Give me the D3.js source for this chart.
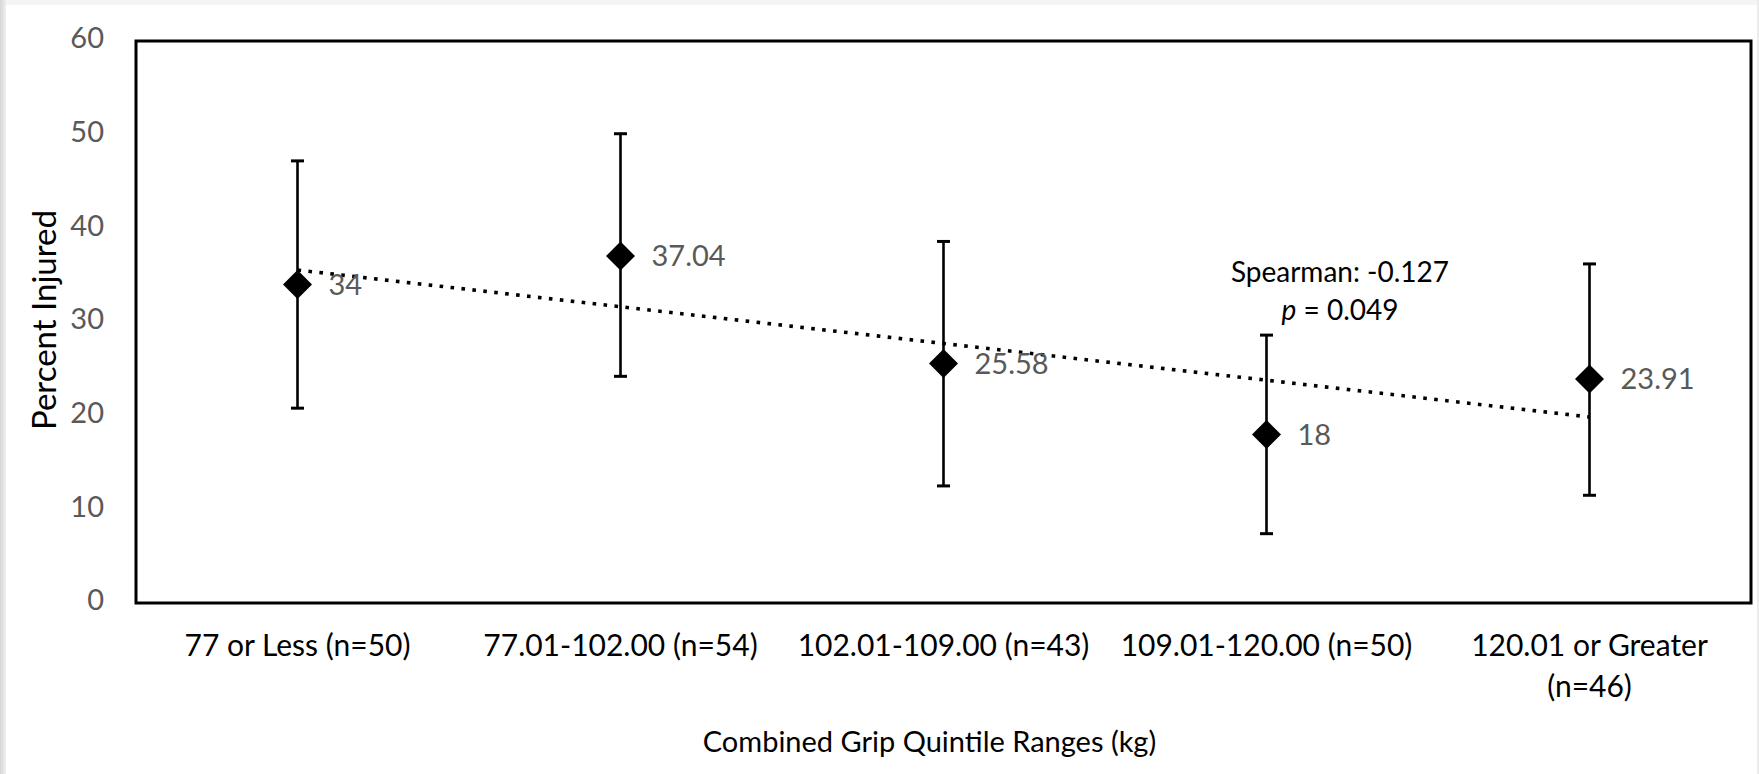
<!DOCTYPE html>
<html>
<head>
<meta charset="utf-8">
<script src="https://cdn.jsdelivr.net/npm/d3@7"></script>
<style>
  html, body { margin: 0; padding: 0; background: #fff; }
  svg { display: block; }
  text { font-family: Lato, "Noto Sans", sans-serif; }
</style>
</head>
<body>
<svg id="chart" width="1759" height="774"></svg>
<script>
// Injury rate by combined grip strength quintile, with 95% confidence intervals
const categories = [
  "77 or Less (n=50)",
  "77.01-102.00 (n=54)",
  "102.01-109.00 (n=43)",
  "109.01-120.00 (n=50)",
  "120.01 or Greater (n=46)"
];
const percentInjured = [34, 37.04, 25.58, 18, 23.91];
const ciLower = [20.8, 24.2, 12.5, 7.4, 11.5];
const ciUpper = [47.2, 50.1, 38.6, 28.6, 36.2];
const yTicks = [0, 10, 20, 30, 40, 50, 60];
const spearmanText = "Spearman: -0.127";
const pValueText = "0.049";

const svg = d3.select("#chart");
const W = 1759, H = 774;
const plot = { left: 136, right: 1751, top: 41, bottom: 603 };

// page edge shading
const defs = svg.append("defs");
const grad = defs.append("linearGradient").attr("id", "edgeShade")
  .attr("x1", "0").attr("x2", "1").attr("y1", "0").attr("y2", "0");
grad.append("stop").attr("offset", "0").attr("stop-color", "#d6d6d6");
grad.append("stop").attr("offset", "1").attr("stop-color", "#efefef");
svg.append("rect").attr("x", 0).attr("y", 0).attr("width", W).attr("height", 5).attr("fill", "#f4f4f4");
svg.append("rect").attr("x", 0).attr("y", 0).attr("width", 6).attr("height", H).attr("fill", "url(#edgeShade)");
svg.append("rect").attr("x", 1757).attr("y", 0).attr("width", 2).attr("height", H).attr("fill", "#ececec");

const x = d3.scaleBand().domain(categories).range([plot.left, plot.right]).padding(0);
const y = d3.scaleLinear().domain([0, 60]).range([plot.bottom, plot.top]);
const cx = c => x(c) + x.bandwidth() / 2;

// y axis labels
const yAxis = svg.append("g")
  .attr("transform", `translate(${plot.left},0)`)
  .call(d3.axisLeft(y).tickValues(yTicks).tickSize(0).tickPadding(32));
yAxis.select(".domain").remove();
yAxis.selectAll("text")
  .attr("fill", "#595959").attr("font-size", 29).attr("dy", "0.24em")
  .style("font-family", "Lato, 'Noto Sans', sans-serif");

// x axis labels, wrapped to the category width
const xAxis = svg.append("g")
  .attr("transform", `translate(0,${plot.bottom})`)
  .call(d3.axisBottom(x).tickSize(0).tickPadding(0));
xAxis.select(".domain").remove();
xAxis.selectAll("text")
  .attr("fill", "#000").attr("font-size", 30).attr("y", 0).attr("dy", 0)
  .style("font-family", "Lato, 'Noto Sans', sans-serif")
  .each(function(d) {
    const t = d3.select(this);
    const maxW = x.bandwidth() * 0.95;
    const words = d.split(" ");
    t.text(null);
    let line = [];
    const lines = [];
    const probe = t.append("tspan");
    words.forEach(w => {
      line.push(w);
      probe.text(line.join(" "));
      if (probe.node().getComputedTextLength() > maxW && line.length > 1) {
        line.pop();
        lines.push(line.join(" "));
        line = [w];
      }
    });
    lines.push(line.join(" "));
    probe.remove();
    lines.forEach((l, i) => {
      t.append("tspan").attr("x", 0).attr("y", 53 + i * 41).text(l);
    });
  });

// plot frame
svg.append("rect")
  .attr("x", plot.left).attr("y", plot.top)
  .attr("width", plot.right - plot.left).attr("height", plot.bottom - plot.top)
  .attr("fill", "none").attr("stroke", "#000").attr("stroke-width", 3);

// linear trendline (least squares over category index)
const n = percentInjured.length;
const idx = d3.range(1, n + 1);
const mx = d3.mean(idx), my = d3.mean(percentInjured);
const slope = d3.sum(idx, (v, i) => (v - mx) * (percentInjured[i] - my)) / d3.sum(idx, v => (v - mx) ** 2);
const intercept = my - slope * mx;
const trend = [
  { c: categories[0], v: intercept + slope * 1 },
  { c: categories[n - 1], v: intercept + slope * n }
];
svg.append("path")
  .datum(trend)
  .attr("d", d3.line().x(d => cx(d.c)).y(d => y(d.v)))
  .attr("fill", "none").attr("stroke", "#000")
  .attr("stroke-width", 3.6).attr("stroke-dasharray", "3.6 7.4");

// error bars
const points = categories.map((c, i) => ({ c, v: percentInjured[i], lo: ciLower[i], hi: ciUpper[i] }));
const eb = svg.append("g").attr("stroke", "#000").attr("stroke-width", 2.6);
eb.selectAll(".stem").data(points).join("line")
  .attr("x1", d => cx(d.c)).attr("x2", d => cx(d.c))
  .attr("y1", d => y(d.lo)).attr("y2", d => y(d.hi));
eb.selectAll(".capHi").data(points).join("line")
  .attr("x1", d => cx(d.c) - 6.5).attr("x2", d => cx(d.c) + 6.5)
  .attr("y1", d => y(d.hi)).attr("y2", d => y(d.hi)).attr("stroke-width", 3);
eb.selectAll(".capLo").data(points).join("line")
  .attr("x1", d => cx(d.c) - 6.5).attr("x2", d => cx(d.c) + 6.5)
  .attr("y1", d => y(d.lo)).attr("y2", d => y(d.lo)).attr("stroke-width", 3);

// diamond markers
const diamond = d3.symbol().type(d3.symbolSquare).size(420);
svg.append("g").selectAll("path").data(points).join("path")
  .attr("d", diamond)
  .attr("transform", d => `translate(${cx(d.c)},${y(d.v)}) rotate(45)`)
  .attr("fill", "#000");

// value labels
svg.append("g").selectAll("text").data(points).join("text")
  .attr("x", d => cx(d.c) + 31).attr("y", d => y(d.v)).attr("dy", "0.36em")
  .attr("fill", "#595959").attr("font-size", 29)
  .text(d => String(d.v));

// correlation note
svg.append("text").attr("x", 1340).attr("y", 282).attr("text-anchor", "middle")
  .attr("font-size", 28).attr("fill", "#000").text(spearmanText);
const pt = svg.append("text").attr("x", 1340).attr("y", 320).attr("text-anchor", "middle")
  .attr("font-size", 28).attr("fill", "#000");
pt.append("tspan").attr("font-style", "italic").text("p");
pt.append("tspan").text(" = " + pValueText);

// axis titles
svg.append("text").attr("x", (plot.left + plot.right) / 2 - 14).attr("y", 752)
  .attr("text-anchor", "middle").attr("font-size", 29).attr("fill", "#000")
  .text("Combined Grip Quintile Ranges (kg)");
svg.append("text")
  .attr("transform", `translate(56,${(plot.top + plot.bottom) / 2 - 2}) rotate(-90)`)
  .attr("text-anchor", "middle").attr("font-size", 33).attr("fill", "#000")
  .text("Percent Injured");
</script>
</body>
</html>
